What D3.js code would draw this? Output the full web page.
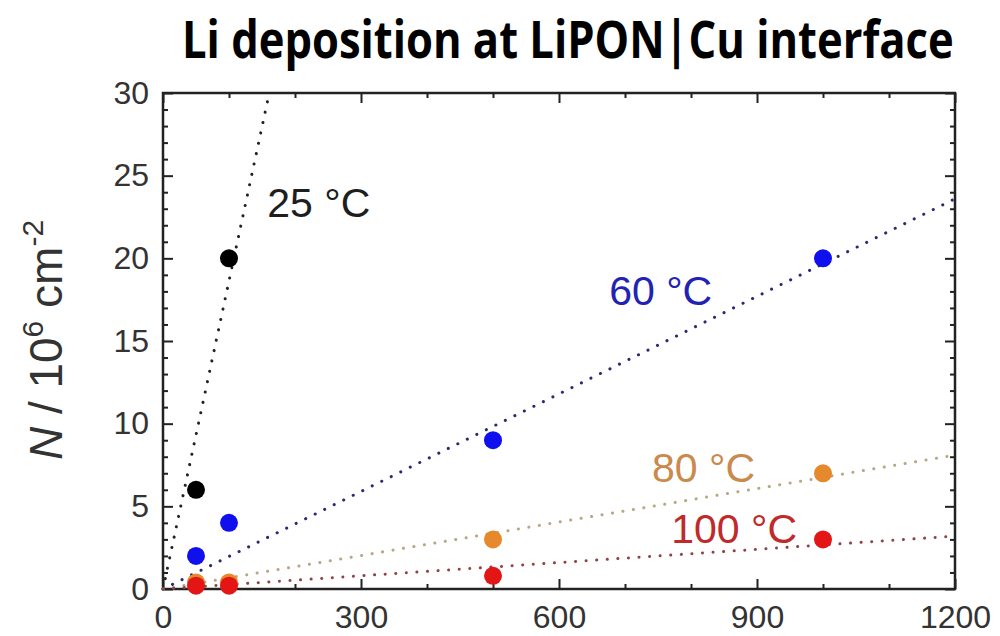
<!DOCTYPE html>
<html>
<head>
<meta charset="utf-8">
<script src="https://cdn.jsdelivr.net/npm/d3@7"></script>
<style>
  body { margin: 0; background: #fff; }
  svg { display: block; }
</style>
</head>
<body>
<div class="chartBox"></div>
<script>
// series
var temps = ['25 °C', '60 °C', '80 °C', '100 °C'];
var pointX = [
    [50, 100],
    [50, 100, 500, 1000],
    [50, 100, 500, 1000],
    [50, 100, 500, 1000]
];
var pointY = [
    [6, 20],
    [2, 4, 9, 20],
    [0.4, 0.4, 3, 7],
    [0.2, 0.2, 0.8, 3]
];
// linear fits, drawn from the origin to these end points
var fitEndX = [161, 1200, 1200, 1200];
var fitEndY = [30, 23.6, 8.1, 3.2];

var xMajor = [0, 300, 600, 900, 1200];
var xMinor = [100, 200, 400, 500, 700, 800, 1000, 1100];
var yMajor = [0, 5, 10, 15, 20, 25, 30];
var yMinor = d3.range(0, 31).filter(function (v) { return v % 5 !== 0; });

// label anchor points (data units)
var labelX = [158, 676, 741, 770];
var labelY = [22.5, 17.2, 6.5, 2.8];

var pointColors = ['#000000', '#1010ee', '#e5892c', '#e31515'];
var lineColors = ['#222222', '#2a2a70', '#b8a684', '#8e4444'];
var textColors = ['#1e1e1e', '#2222b4', '#c98a4c', '#bf2a2a'];

function drawChart() {
    var box = document.querySelector('.chartBox');
    box.innerHTML = '';

    var svg = d3.select('.chartBox')
        .append('svg')
        .attr('width', 1000)
        .attr('height', 636);

    var x = d3.scaleLinear().domain([0, 1200]).range([163, 955]);
    var y = d3.scaleLinear().domain([0, 30]).range([589, 93]);

    // title, squeezed horizontally to the width it has in the picture
    var title = svg.append('text')
        .attr('x', 0)
        .attr('y', 0)
        .style('font-family', '"Open Sans", "Liberation Sans", sans-serif')
        .style('font-weight', 'bold')
        .style('font-size', '52px')
        .style('fill', '#000')
        .text('Li deposition at LiPON|Cu interface');
    var natural = title.node().getComputedTextLength();
    title.attr('transform', 'translate(182,58) scale(' + (772 / natural) + ',1)');

    var tickFont = '"Liberation Sans", Arial, sans-serif';

    // axes, ticks pointing inward
    function styleAxis(g) {
        g.select('.domain').remove();
        g.selectAll('.tick line').attr('stroke', '#222').attr('stroke-width', 2);
        g.selectAll('.tick text')
            .style('font-family', tickFont)
            .style('font-size', '32px')
            .style('fill', '#333');
    }

    svg.append('g').attr('transform', 'translate(0,' + y(0) + ')')
        .call(d3.axisBottom(x).tickValues(xMajor).tickSize(-10).tickPadding(16).tickFormat(d3.format('d')))
        .call(styleAxis);
    svg.append('g').attr('transform', 'translate(0,' + y(0) + ')')
        .call(d3.axisBottom(x).tickValues(xMinor).tickSize(-5).tickFormat(''))
        .call(styleAxis);
    svg.append('g').attr('transform', 'translate(0,' + y(30) + ')')
        .call(d3.axisTop(x).tickValues(xMajor).tickSize(-10).tickFormat(''))
        .call(styleAxis);
    svg.append('g').attr('transform', 'translate(0,' + y(30) + ')')
        .call(d3.axisTop(x).tickValues(xMinor).tickSize(-5).tickFormat(''))
        .call(styleAxis);

    svg.append('g').attr('transform', 'translate(' + x(0) + ',0)')
        .call(d3.axisLeft(y).tickValues(yMajor).tickSize(-10).tickPadding(14))
        .call(styleAxis);
    svg.append('g').attr('transform', 'translate(' + x(0) + ',0)')
        .call(d3.axisLeft(y).tickValues(yMinor).tickSize(-5).tickFormat(''))
        .call(styleAxis);
    svg.append('g').attr('transform', 'translate(' + x(1200) + ',0)')
        .call(d3.axisRight(y).tickValues(yMajor).tickSize(-10).tickFormat(''))
        .call(styleAxis);
    svg.append('g').attr('transform', 'translate(' + x(1200) + ',0)')
        .call(d3.axisRight(y).tickValues(yMinor).tickSize(-5).tickFormat(''))
        .call(styleAxis);

    // frame
    svg.append('rect')
        .attr('x', x(0))
        .attr('y', y(30))
        .attr('width', x(1200) - x(0))
        .attr('height', y(0) - y(30))
        .attr('fill', 'none')
        .attr('stroke', '#222')
        .attr('stroke-width', 2.5);

    // y axis title
    var yt = svg.append('text')
        .attr('transform', 'translate(62,' + 340 + ') rotate(-90)')
        .attr('text-anchor', 'middle')
        .style('font-family', tickFont)
        .style('font-size', '46px')
        .style('fill', '#333');
    yt.append('tspan').style('font-style', 'italic').text('N');
    yt.append('tspan').text(' / 10');
    yt.append('tspan').attr('dy', -19).style('font-size', '30px').text('6');
    yt.append('tspan').attr('dy', 19).text(' cm');
    yt.append('tspan').attr('dy', -19).style('font-size', '30px').text('-2');

    // dotted fit lines
    var fits = temps.map(function (t, i) {
        return { i: i, x1: fitEndX[i], y1: fitEndY[i] };
    });
    svg.selectAll('.fit')
        .data(fits)
        .enter().append('line')
        .attr('class', 'fit')
        .attr('x1', x(0))
        .attr('y1', y(0))
        .attr('x2', d => x(d.x1))
        .attr('y2', d => y(d.y1))
        .attr('stroke', d => lineColors[d.i])
        .attr('stroke-width', 3)
        .attr('stroke-linecap', 'round')
        .attr('stroke-dasharray', '0.1 10.5');

    // points
    var pts = [];
    temps.forEach(function (t, i) {
        pointX[i].forEach(function (v, j) {
            pts.push({ i: i, x: v, y: pointY[i][j] });
        });
    });
    svg.selectAll('.pt')
        .data(pts)
        .enter().append('circle')
        .attr('class', 'pt')
        .attr('cx', d => x(d.x))
        .attr('cy', d => y(d.y))
        .attr('r', 9)
        .attr('fill', d => pointColors[d.i]);

    // series labels
    svg.selectAll('.lbl')
        .data(temps)
        .enter().append('text')
        .attr('class', 'lbl')
        .attr('x', (d, i) => x(labelX[i]))
        .attr('y', (d, i) => y(labelY[i]))
        .style('font-family', tickFont)
        .style('font-size', '41px')
        .style('fill', (d, i) => textColors[i])
        .text(d => d);
}

drawChart();
</script>
</body>
</html>
